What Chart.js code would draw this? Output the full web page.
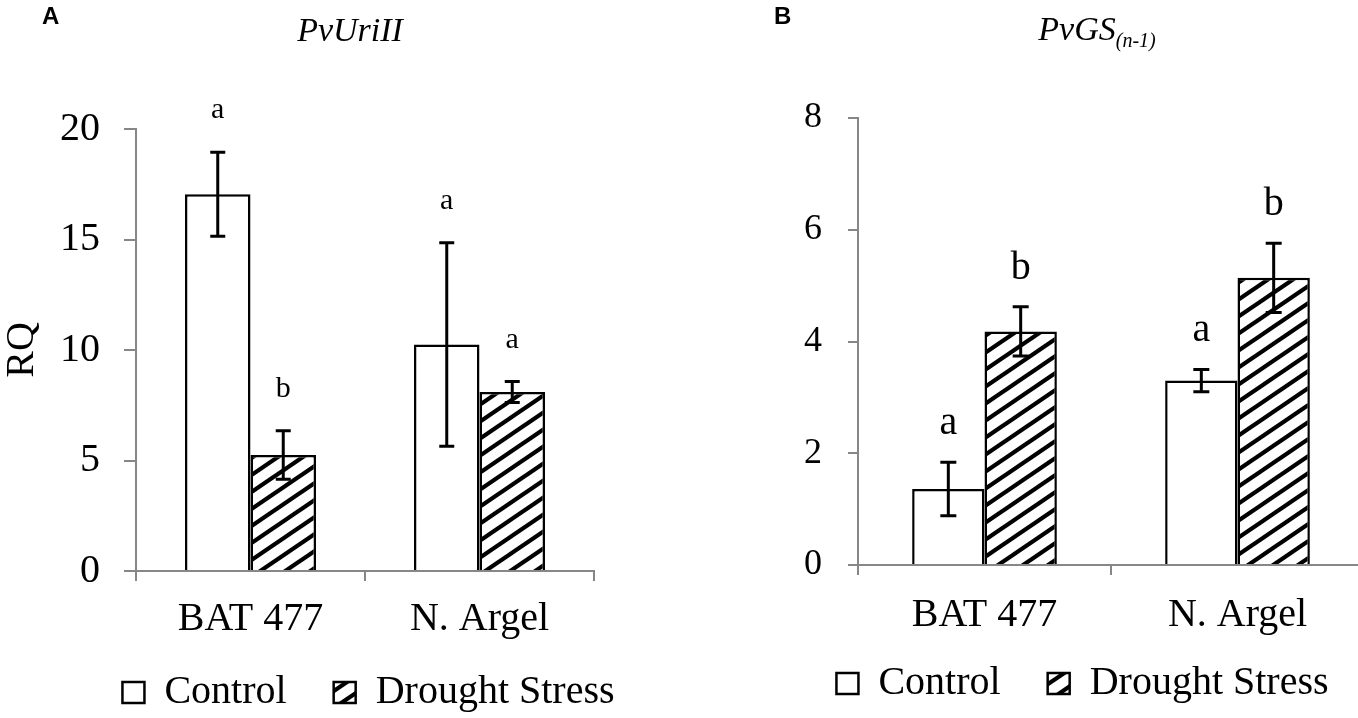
<!DOCTYPE html>
<html>
<head>
<meta charset="utf-8">
<script src="https://cdn.jsdelivr.net/npm/chart.js@4.4.1/dist/chart.umd.min.js"></script>
<style>
  html, body { margin: 0; padding: 0; background: #fff; overflow: hidden; }
  #wrap { position: relative; width: 1358px; height: 718px; overflow: hidden; }
  canvas { position: absolute; top: 0; }
</style>
</head>
<body>
<div id="wrap">
  <canvas id="chartA" width="679" height="718" style="left:0;width:679px;height:718px"></canvas>
  <canvas id="chartB" width="700" height="718" style="left:679px;width:700px;height:718px"></canvas>
</div>
<script>
// --- data ---
const categories = ['BAT 477', 'N. Argel'];
const seriesNames = ['Control', 'Drought Stress'];

// panel A: PvUriII
const uriControl = [17.05, 10.25];
const uriControlErr = [1.9, 4.6];
const uriDrought = [5.25, 8.1];
const uriDroughtErr = [1.1, 0.47];
const uriControlLetters = ['a', 'a'];
const uriDroughtLetters = ['b', 'a'];
const uriTicks = [0, 5, 10, 15, 20];

// panel B: PvGS(n-1)
const gsControl = [1.36, 3.3];
const gsControlErr = [0.48, 0.2];
const gsDrought = [4.18, 5.14];
const gsDroughtErr = [0.44, 0.62];
const gsControlLetters = ['a', 'a'];
const gsDroughtLetters = ['b', 'b'];
const gsTicks = [0, 2, 4, 6, 8];

const SERIF = "'Liberation Serif', 'Times New Roman', serif";
const SANS = "'Liberation Sans', Arial, sans-serif";
const GREY = '#878787';

// "/" stripes, a bit flatter than 45 degrees like the original
function hatch(ctx) {
    const w = 25, h = 17;
    const c = document.createElement('canvas');
    c.width = w; c.height = h;
    const g = c.getContext('2d');
    g.fillStyle = '#fff';
    g.fillRect(0, 0, w, h);
    g.strokeStyle = '#000';
    g.lineWidth = 4.2;
    for (const k of [-1, 0, 1]) {
        g.beginPath();
        g.moveTo(k * w - w * 0.2, h * 1.2);
        g.lineTo(k * w + w * 1.2, -h * 0.2);
        g.stroke();
    }
    return ctx.createPattern(c, 'repeat');
}

// error bars, significance letters, gene title, panel letter
const extras = {
    id: 'extras',
    afterDatasetsDraw(chart, args, o) {
        const ctx = chart.ctx;
        const y = chart.scales.y;
        ctx.save();
        o.errors.forEach((errs, di) => {
            const vals = chart.data.datasets[di].data;
            chart.getDatasetMeta(di).data.forEach((bar, i) => {
                const top = y.getPixelForValue(vals[i] + errs[i]);
                const bot = y.getPixelForValue(vals[i] - errs[i]);
                const h = o.cap / 2;
                ctx.strokeStyle = '#000';
                ctx.lineWidth = 3;
                ctx.beginPath();
                ctx.moveTo(bar.x, top); ctx.lineTo(bar.x, bot);
                ctx.moveTo(bar.x - h, top); ctx.lineTo(bar.x + h, top);
                ctx.moveTo(bar.x - h, bot); ctx.lineTo(bar.x + h, bot);
                ctx.stroke();
                ctx.fillStyle = '#000';
                ctx.font = o.letterFont;
                ctx.textAlign = 'center';
                ctx.textBaseline = 'alphabetic';
                ctx.fillText(o.letters[di][i], bar.x, top - o.letterGap);
            });
        });
        ctx.restore();
    },
    afterDraw(chart, args, o) {
        const ctx = chart.ctx;
        ctx.save();
        ctx.fillStyle = '#000';
        ctx.textBaseline = 'alphabetic';
        ctx.textAlign = 'left';
        ctx.font = 'bold 24px ' + SANS;
        ctx.fillText(o.panel, o.panelX, 24);
        // title pieces (main + optional subscript)
        let w = 0;
        o.title.forEach((p) => { ctx.font = p.font; w += ctx.measureText(p.text).width; });
        let x = o.titleX - w / 2;
        o.title.forEach((p) => {
            ctx.font = p.font;
            ctx.fillText(p.text, x, 41 + p.dy);
            x += ctx.measureText(p.text).width;
        });
        ctx.restore();
    },
};

// move the legend row to where the figure has it (legend clips to its box,
// so only the top edge moves up and the bottom stays at the canvas edge)
const legendShift = {
    id: 'legendShift',
    afterLayout(chart, args, o) {
        const lg = chart.legend;
        lg.left += o.dx; lg.right += o.dx;
        lg.top += o.dy;
        lg.bottom = chart.height;
    },
};

function makeChart(id, p) {
    const canvas = document.getElementById(id);
    const ctx = canvas.getContext('2d');
    return new Chart(ctx, {
        type: 'bar',
        data: {
            labels: categories,
            datasets: [
                {
                    label: seriesNames[0],
                    data: p.control,
                    backgroundColor: '#fff',
                    borderColor: '#000',
                    borderWidth: 2.5,
                },
                {
                    label: seriesNames[1],
                    data: p.drought,
                    backgroundColor: hatch(ctx),
                    borderColor: '#000',
                    borderWidth: 2.5,
                },
            ],
        },
        options: {
            responsive: false,
            maintainAspectRatio: false,
            animation: false,
            events: [],
            datasets: { bar: { barPercentage: 1, categoryPercentage: 0.572 } },
            layout: { padding: { top: p.top, right: p.right, left: 0, bottom: 0 } },
            plugins: {
                tooltip: { enabled: false },
                legend: {
                    position: 'bottom',
                    maxHeight: p.legendHeight,
                    labels: {
                        color: '#000',
                        font: { family: SERIF, size: 40 },
                        boxWidth: 22,
                        boxHeight: 21,
                        padding: 47,
                    },
                },
                legendShift: p.legend,
                extras: {
                    errors: [p.controlErr, p.droughtErr],
                    letters: [p.controlLetters, p.droughtLetters],
                    letterFont: p.letterFont,
                    letterGap: p.letterGap,
                    cap: p.cap,
                    panel: p.panel,
                    panelX: p.panelX,
                    title: p.title,
                    titleX: p.titleX,
                },
            },
            scales: {
                x: {
                    afterFit: (s) => { s.height = p.xHeight; },
                    ticks: {
                        color: '#000',
                        font: { family: SERIF, size: 40, lineHeight: 1.2 },
                        padding: p.xPad,
                        maxRotation: 0,
                        autoSkip: false,
                    },
                    grid: {
                        drawOnChartArea: false,
                        drawTicks: true,
                        tickLength: 10,
                        color: GREY,
                        lineWidth: 2,
                    },
                    border: { display: true, color: GREY, width: 2 },
                },
                y: {
                    min: p.ticks[0],
                    max: p.ticks[p.ticks.length - 1],
                    afterFit: (s) => { s.width = p.yWidth; },
                    ticks: {
                        stepSize: p.ticks[1] - p.ticks[0],
                        color: '#000',
                        font: { family: SERIF, size: p.yFont },
                        padding: p.yPad,
                    },
                    grid: {
                        drawOnChartArea: false,
                        drawTicks: true,
                        tickLength: p.yTick,
                        color: GREY,
                        lineWidth: 2,
                    },
                    border: { display: true, color: GREY, width: 2 },
                    title: {
                        display: !!p.yTitle,
                        text: p.yTitle || '',
                        color: '#000',
                        font: { family: SERIF, size: 40, lineHeight: 1 },
                        padding: { top: 2, bottom: 0 },
                    },
                },
            },
        },
        plugins: [extras, legendShift],
    });
}

makeChart('chartA', {
    control: uriControl, controlErr: uriControlErr, controlLetters: uriControlLetters,
    drought: uriDrought, droughtErr: uriDroughtErr, droughtLetters: uriDroughtLetters,
    ticks: uriTicks,
    top: 129, right: 85, yWidth: 136, xHeight: 74, legendHeight: 73,
    xPad: 14, yPad: 24, yTick: 12, yFont: 40,
    yTitle: 'RQ',
    letterFont: '30px ' + SERIF, letterGap: 34, cap: 15,
    legend: { dx: 71.5, dy: -19.5 },
    panel: 'A', panelX: 42,
    title: [{ text: 'PvUriII', font: 'italic 34px ' + SERIF, dy: 0 }],
    titleX: 350,
});

makeChart('chartB', {
    control: gsControl, controlErr: gsControlErr, controlLetters: gsControlLetters,
    drought: gsDrought, droughtErr: gsDroughtErr, droughtLetters: gsDroughtLetters,
    ticks: gsTicks,
    top: 118, right: 15, yWidth: 179, xHeight: 83, legendHeight: 70,
    xPad: 16, yPad: 26, yTick: 10, yFont: 36,
    yTitle: '',
    letterFont: '40px ' + SERIF, letterGap: 28, cap: 16,
    legend: { dx: 61, dy: -31.5 },
    panel: 'B', panelX: 95,
    title: [
        { text: 'PvGS', font: 'italic 34px ' + SERIF, dy: -1 },
        { text: '(n-1)', font: 'italic 20px ' + SERIF, dy: 6 },
    ],
    titleX: 418,
});
</script>
</body>
</html>
